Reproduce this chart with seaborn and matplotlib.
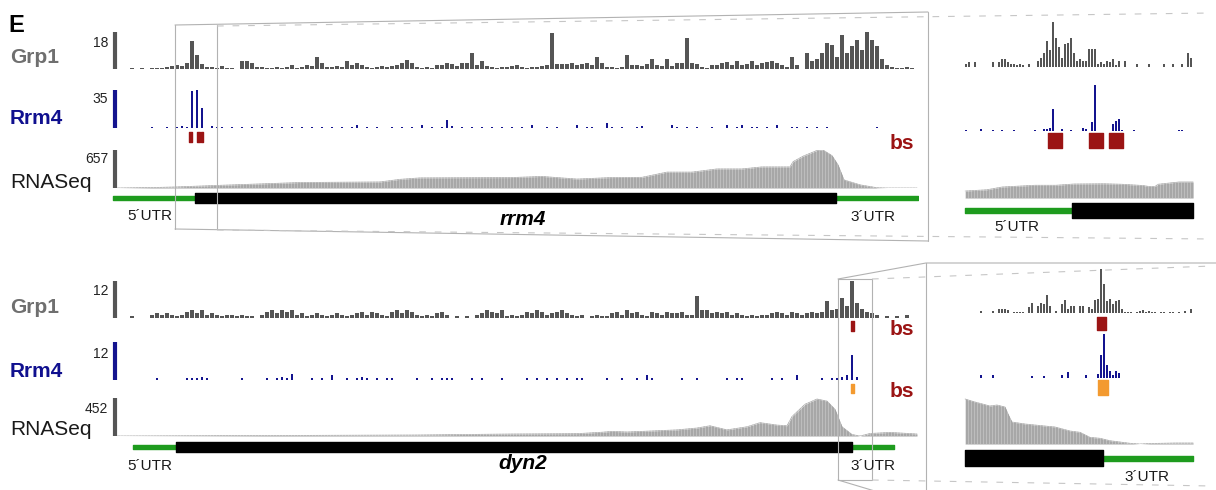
import numpy as np
import seaborn as sns
import matplotlib
matplotlib.use("Agg")
import matplotlib.pyplot as plt

sns.set_theme(style="white")
plt.rcParams['font.family'] = ['Liberation Sans', 'DejaVu Sans']

# ---------------- data ----------------
# main tracks: 161 bins along the locus, insets: 78 bins
# top locus (rrm4)
top_grp1 = [
    0, 0, 0, 0.5, 0, 0.5, 0, 0.5, 0.5, 0.5,
    1, 1.5, 2, 1.5, 3, 13.5, 7, 2.5, 1, 1,
    0.5, 1.5, 0.5, 0.5, 0, 4, 4, 3, 1, 1,
    0.5, 0.5, 1, 0.5, 1, 2, 0.5, 1, 2, 1.5,
    6, 3, 1, 1, 1.5, 1, 4, 2, 3, 2,
    1, 0.5, 1, 1.5, 1, 1.5, 2, 3, 4.5, 3,
    1, 0.5, 1, 0.5, 2, 2, 3, 2.5, 1.5, 3,
    3, 8, 2, 4, 1.5, 1, 0.5, 1, 1, 1.5,
    2, 1, 0.5, 1, 1, 1.5, 2, 17.5, 2.5, 2.5,
    2.5, 3, 2, 2.5, 3, 2, 6, 3, 1, 1,
    0.5, 1, 7, 2, 2, 1.5, 2.5, 5, 2, 1.5,
    5, 1.5, 3, 3, 15, 3, 2.5, 1, 0.5, 2,
    2, 3, 3.5, 2, 4, 2, 2.5, 4, 2, 3,
    3.5, 4, 3, 2, 1, 6, 2, 0, 8, 4,
    5, 8, 12.5, 11.5, 6, 16.5, 8, 11, 14, 9,
    18, 14, 11, 5, 2, 1, 0.5, 0.5, 1, 0.5,
    0,
]
top_rrm4 = [
    (7, 0.5), (10, 1), (12, 1), (13, 1.5), (14, 1), (15, 34), (16, 35), (17, 18),
    (19, 1.5), (20, 0.5), (21, 1), (23, 1), (25, 1), (27, 1), (29, 1), (31, 1),
    (33, 1), (35, 1), (37, 1), (39, 1), (41, 1), (43, 1), (45, 1), (47, 1),
    (48, 3), (50, 1), (52, 1), (55, 1), (57, 1), (59, 1), (61, 3), (63, 1),
    (65, 1), (66, 7), (67, 2), (69, 1), (71, 1), (73, 1), (75, 1), (77, 1),
    (79, 1), (81, 1), (83, 3), (86, 1), (88, 1), (92, 3), (94, 1), (95, 1),
    (98, 5), (99, 1), (101, 1), (104, 1), (105, 2), (111, 3), (112, 1), (114, 1),
    (116, 1), (119, 1), (122, 3), (124, 1), (125, 3), (127, 1), (128, 1), (130, 1),
    (132, 3), (135, 1), (136, 1), (138, 1), (140, 1), (142, 1), (152, 1),
]
top_rna = [
    (0, 0), (8, 10), (11.6, 18), (20, 45), (36.6, 95), (52.6, 105), (56.6, 150),
    (60.6, 175), (70.6, 178), (78.6, 180), (85, 200), (92, 155), (98.6, 180),
    (105, 185), (110, 275), (115, 275), (120, 330), (125, 330), (129, 365),
    (134.6, 365), (135.2, 455), (137.2, 550), (140, 650), (141.2, 657), (143, 560),
    (144.2, 400), (145.4, 140), (148.6, 55), (152, 5), (154, 0), (160, 0),
]
top_bs = [(14.4, 15.0), (16.0, 16.5), (16.7, 17.2)]
top_utr5, top_cds, top_utr3 = (-0.8, 15.6), (15.6, 143.8), (143.8, 160.2)
top_zoom = (11.6, 20.0)
top_scale = {'Grp1': 18, 'Rrm4': 35, 'RNASeq': 657}

top_in_grp1 = [
    0, 1, 1.5, 0, 1.5, 0, 0, 0, 0, 0,
    1.5, 0, 1.5, 2.5, 2.5, 1.5, 1, 1, 0.7, 1,
    0.7, 0, 1, 0, 0, 2, 3, 4.5, 8.5, 5.5,
    15, 9.5, 6.5, 3, 7.5, 8, 9.5, 4.5, 2, 2.5,
    2, 2, 6, 6, 6, 1, 1.5, 1, 2, 1.5,
    2.5, 0.5, 2, 0, 2, 0, 0, 0, 1, 0,
    0, 0, 1, 0, 0, 0, 0, 1, 0, 0,
    1, 0, 0, 1, 0, 4.5, 3, 0,
]
top_in_rrm4 = [
    (1, 1), (6, 2), (10, 1), (13, 1), (17, 1), (24, 1), (27, 2), (28, 2), (29, 3),
    (30, 22), (33, 1.5), (36, 1), (40, 3), (41, 2), (43, 9), (44, 46), (50, 7),
    (51, 10), (52, 12), (53, 1), (57, 1), (72, 1), (73, 1),
]
top_in_rna = [
    (0.7, 28), (8, 33), (13, 44), (24, 51), (31, 51), (37, 56), (47, 57), (53, 55),
    (60, 50), (62, 46), (64, 46), (65, 55), (72, 64), (76.7, 64),
]
top_in_bs = [(28.3, 33.0), (42.0, 46.7), (48.7, 53.3)]
top_in_utr5, top_in_cds = (0.7, 36.3), (36.3, 76.7)

# bottom locus (dyn2)
bot_grp1 = [
    0, 0, 0, 0.7, 0, 0, 0, 1, 1.5, 1,
    1.5, 1, 0.5, 1, 2, 2.5, 1.5, 2.5, 1, 1.5,
    1, 0.5, 1, 1, 0.5, 1, 0.5, 0.5, 0, 1,
    2, 2.5, 1.5, 2.5, 2, 2.5, 1, 1.5, 0.5, 1,
    1.5, 1, 0.5, 1, 1.5, 1, 0.5, 1, 1.5, 2,
    1, 2, 1.5, 1, 0.5, 2, 2.5, 1.5, 2.5, 2,
    1, 0.5, 1, 0.5, 1.5, 2, 1, 0, 0.5, 0,
    0.5, 0, 1, 1.5, 2.5, 2, 1.5, 2.5, 0.5, 1,
    0.5, 1, 2, 1.5, 2.5, 2, 1, 1.5, 2, 2.5,
    1.5, 1, 0.5, 1, 0, 0.5, 1, 0.5, 0.5, 1.5,
    2, 1, 2.5, 1.5, 2, 1, 0.5, 2, 1.5, 1,
    2, 1.5, 1.5, 2, 1, 1, 7, 2.5, 2.5, 1.5,
    2, 1.5, 2, 1, 1.5, 1, 0.5, 1, 0.5, 1,
    1, 1.5, 2, 1.5, 1, 2, 1.5, 1, 1.5, 2,
    1.5, 2, 5.5, 2.5, 3, 6.5, 4, 12, 5, 3,
    2, 1.5, 1, 0, 0.5, 0, 0.5, 0, 1, 0,
    0,
]
bot_rrm4 = [
    (8, 0.7), (14, 0.7), (15, 0.7), (16, 0.7), (17, 1), (18, 0.7), (25, 0.7),
    (30, 0.7), (32, 0.7), (33, 1), (34, 0.7), (35, 1.8), (39, 0.7), (41, 0.7),
    (43, 1.5), (46, 0.7), (48, 0.7), (49, 1), (50, 0.7), (52, 0.7), (54, 0.7),
    (55, 0.7), (60, 0.7), (63, 0.7), (65, 0.7), (66, 0.7), (67, 0.7), (71, 0.7),
    (73, 0.7), (77, 0.7), (82, 0.7), (84, 0.7), (86, 0.7), (88, 0.7), (90, 0.7),
    (92, 0.7), (93, 0.7), (98, 0.7), (101, 0.7), (104, 0.7), (106, 1.5), (107, 0.7),
    (113, 0.7), (116, 0.7), (122, 0.7), (124, 0.7), (125, 0.7), (131, 0.7),
    (133, 0.7), (136, 1.5), (141, 0.7), (143, 0.7), (144, 0.7), (145, 1),
    (146, 1.5), (147, 8), (148, 1),
]
bot_rna = [
    (0, 0), (20, 4), (40, 8), (60, 12), (79, 24), (92, 28), (97, 45), (99, 55),
    (102, 48), (105, 55), (112, 73), (116, 95), (118.6, 122), (122, 73), (126, 110),
    (128.6, 159), (132, 130), (134, 122), (135, 232), (137.6, 378), (140, 440),
    (142, 415), (143.6, 317), (145, 110), (147, 18), (148.6, 0), (150.6, 30),
    (154.6, 43), (160, 24),
]
bot_bs_grp1 = [(146.8, 147.4)]
bot_bs_rrm4 = [(146.8, 147.4)]
bot_utr5, bot_cds, bot_utr3 = (3.2, 11.8), (11.8, 147.0), (147.0, 155.4)
bot_zoom = (144.2, 151.0)
bot_scale = {'Grp1': 12, 'Rrm4': 12, 'RNASeq': 452}

bot_in_grp1 = [
    0, 0, 0, 0, 0, 0, 0.7, 0, 0, 0,
    0.7, 0, 1.3, 1.5, 1.3, 1, 0, 0.5, 0.5, 0.5,
    0.5, 0, 2, 3.5, 0, 2.5, 3.3, 3, 6, 2.5,
    0, 0.7, 0, 3, 4.3, 1.5, 2.3, 2.3, 0, 2.5,
    2.5, 0, 2, 1.5, 4.3, 4.7, 15, 10, 4, 4.7,
    3, 4, 4.3, 1.5, 0.5, 0.3, 0.5, 0, 0.5, 0.7,
    1, 0.5, 0.7, 0.3, 0.5, 0, 0.5, 0.5, 0, 0.5,
    0.3, 0, 0.5, 0, 0.7, 0, 1.2, 0,
]
bot_in_rrm4 = [
    (6, 3), (10, 3), (23, 2.5), (27, 2.5), (33, 3), (35, 6), (41, 3), (45, 4),
    (46, 23), (47, 44), (48, 13), (49, 7), (50, 3), (51, 7), (52, 5),
]
bot_in_rna = [
    (0.7, 450), (4, 420), (9, 380), (11.3, 390), (14, 370), (15, 300), (16.3, 220),
    (20.7, 200), (27.3, 180), (30.7, 170), (35.7, 130), (39, 117), (42.3, 67),
    (45.7, 57), (49, 33), (55.7, 7), (59, 0), (62.3, 5), (70.7, 10), (76.7, 10),
]
bot_in_bs_grp1 = [(44.7, 47.7)]
bot_in_bs_rrm4 = [(45.0, 48.3)]
bot_in_cds, bot_in_utr3 = (0.7, 46.7), (46.7, 76.7)

# ---------------- style ----------------
GREY = '#555555'
NAVY = '#14148f'
RNA_C = '#a7a7a7'
GREEN = '#1e9b1e'
BS_RED = '#9b1414'
BS_ORANGE = '#f39a30'
FRAME = '#b2b2b2'

W, H = 1216, 490
fig = plt.figure(figsize=(W / 100, H / 100), dpi=100)

MAIN_X = (110, 918, (-1.4, 160.2))
INSET_X = (960, 1197, (-1, 78))


def track_axes(xspec, y0, y1, ymax):
    x0, x1, xlim = xspec
    ax = fig.add_axes([x0 / W, 1 - y1 / H, (x1 - x0) / W, (y1 - y0) / H])
    ax.set_axis_off()
    ax.set_xlim(*xlim)
    ax.set_ylim(0, ymax)
    return ax


def strip_axes(xspec, y0, y1):
    # y in pixel rows, used for gene models and binding sites
    x0, x1, xlim = xspec
    ax = fig.add_axes([x0 / W, 1 - y1 / H, (x1 - x0) / W, (y1 - y0) / H])
    ax.set_axis_off()
    ax.set_xlim(*xlim)
    ax.set_ylim(y1, y0)
    return ax


def bars(ax, values, color, width, span):
    x = np.arange(len(values))
    ax.bar(x, values, width=width, color=color, linewidth=0)
    ax.hlines(0, 0, span, color='#cccccc', lw=0.7, zorder=0)


def peaks(ax, pairs, color, width, span):
    x, h = zip(*pairs)
    ax.bar(x, h, width=width, color=color, linewidth=0)
    ax.hlines(0, 0, span, color='#cfcfdf', lw=0.7, zorder=0)


def coverage(ax, pairs, span, step):
    x, y = map(np.array, zip(*pairs))
    ax.fill_between(x, y, color=RNA_C, linewidth=0)
    sns.lineplot(x=x, y=y, ax=ax, color='#a0a0a0', lw=0.5, sort=False)
    ax.vlines(np.arange(x.min(), x.max(), step), 0, y.max(), color='white',
              lw=0.45, alpha=0.4)
    ax.hlines(0, 0, span, color='#cccccc', lw=0.7, zorder=0)
    ax.set_xlabel('')
    ax.set_ylabel('')


def gene(ax, utrs, cds, yc, thick=10, thin=4):
    for s, e in utrs:
        ax.broken_barh([(s, e - s)], (yc - thin / 2, thin), color=GREEN)
    ax.broken_barh([(cds[0], cds[1] - cds[0])], (yc - thick / 2, thick), color='black')


def sites(ax, ranges, y0, y1, color):
    ax.broken_barh([(s, e - s) for s, e in ranges], (y0, y1 - y0), color=color)


def scale_bar(ax, ymax, color):
    ax.vlines(-0.5, 0, ymax, color=color, lw=3)


# ---------------- top panel ----------------
a = track_axes(MAIN_X, 32, 69, top_scale['Grp1'])
bars(a, top_grp1, GREY, 0.62, 160)
scale_bar(a, top_scale['Grp1'], GREY)
ax_ref_top = a
a = track_axes(MAIN_X, 90, 128, top_scale['Rrm4'])
peaks(a, top_rrm4, NAVY, 0.5, 160)
scale_bar(a, top_scale['Rrm4'], NAVY)
a = track_axes(MAIN_X, 150, 188, top_scale['RNASeq'])
coverage(a, top_rna, 160, 0.6)
scale_bar(a, top_scale['RNASeq'], GREY)
s = strip_axes(MAIN_X, 128, 206)
sites(s, top_bs, 132, 142, BS_RED)
gene(s, [top_utr5, top_utr3], top_cds, 198)

a = track_axes(INSET_X, 21, 67, 15.3)
bars(a, top_in_grp1, GREY, 0.8, 77)
a = track_axes(INSET_X, 85, 131, 46)
peaks(a, top_in_rrm4, NAVY, 0.8, 77)
a = track_axes(INSET_X, 150, 198, 192)
coverage(a, top_in_rna, 77, 1)
s = strip_axes(INSET_X, 131, 220)
sites(s, top_in_bs, 133, 148, BS_RED)
gene(s, [top_in_utr5], top_in_cds, 210, thick=15, thin=5)

# ---------------- bottom panel ----------------
a = track_axes(MAIN_X, 281, 318, bot_scale['Grp1'])
bars(a, bot_grp1, GREY, 0.62, 160)
scale_bar(a, bot_scale['Grp1'], GREY)
ax_ref_bot = a
a = track_axes(MAIN_X, 342, 380, bot_scale['Rrm4'])
peaks(a, bot_rrm4, NAVY, 0.5, 160)
scale_bar(a, bot_scale['Rrm4'], NAVY)
a = track_axes(MAIN_X, 398, 436, bot_scale['RNASeq'])
coverage(a, bot_rna, 160, 0.6)
scale_bar(a, bot_scale['RNASeq'], GREY)
s = strip_axes(MAIN_X, 318, 456)
sites(s, bot_bs_grp1, 321, 331, BS_RED)
sites(s, bot_bs_rrm4, 384, 393, BS_ORANGE)
gene(s, [bot_utr5, bot_utr3], bot_cds, 447)

a = track_axes(INSET_X, 268, 313, 15.3)
bars(a, bot_in_grp1, GREY, 0.8, 77)
a = track_axes(INSET_X, 334, 378, 44)
peaks(a, bot_in_rrm4, NAVY, 0.8, 77)
a = track_axes(INSET_X, 398, 444, 460)
coverage(a, bot_in_rna, 77, 1)
s = strip_axes(INSET_X, 313, 470)
sites(s, bot_in_bs_grp1, 317, 330, BS_RED)
sites(s, bot_in_bs_rrm4, 380, 395, BS_ORANGE)
gene(s, [bot_in_utr3], bot_in_cds, 458, thick=16, thin=5)

# ---------------- overlay: labels and zoom frames ----------------
ov = fig.add_axes([0, 0, 1, 1])
ov.set_axis_off()
ov.set_xlim(0, W)
ov.set_ylim(H, 0)


def to_px(ax, b):
    return ax.transData.transform((b, 0))[0]


solid = dict(color=FRAME, lw=0.8)
dashed = dict(color='#c6c6c6', lw=0.8, dashes=(6, 8))

zx0, zx1 = [to_px(ax_ref_top, b) for b in top_zoom]
ov.plot([zx0, zx0], [25, 229], **solid)
ov.plot([zx1, zx1], [25, 229], **solid)
ov.plot([zx0, 928], [25, 12], **solid)
ov.plot([zx0, 928], [229, 241], **solid)
ov.plot([928, 928], [12, 241], **solid)
ov.plot([zx1, 1212], [26, 13], **dashed)
ov.plot([zx1, 1212], [230, 239], **dashed)

bx0, bx1 = [to_px(ax_ref_bot, b) for b in bot_zoom]
ov.plot([bx0, bx0], [279, 480], **solid)
ov.plot([bx1, bx1], [279, 480], **solid)
ov.plot([bx0, bx1], [279, 279], **solid)
ov.plot([bx0, bx1], [480, 480], **solid)
ov.plot([bx0, 926, 1216], [279, 263, 263], **solid)
ov.plot([bx0, 878], [480, 492], **solid)
ov.plot([926, 926], [263, 492], **solid)
ov.plot([bx1, 1212], [279, 266], **dashed)
ov.plot([bx1, 1212], [480, 486], **dashed)

ov.text(8, 32, 'E', fontsize=17, fontweight='bold', color='black')

LBL = 15
for (yb_lab, yb_num), name, scale in [
        ((63, 47), 'Grp1', top_scale), ((124, 103), 'Rrm4', top_scale),
        ((188, 163), 'RNASeq', top_scale),
        ((313, 295), 'Grp1', bot_scale), ((377, 358), 'Rrm4', bot_scale),
        ((435, 413), 'RNASeq', bot_scale)]:
    if name == 'Grp1':
        kw = dict(color='#6f6f6f', fontweight='bold')
    elif name == 'Rrm4':
        kw = dict(color='#10108f', fontweight='bold')
    else:
        kw = dict(color='#1a1a1a')
    ov.text(10, yb_lab, name, fontsize=LBL, va='baseline', **kw)
    ov.text(108, yb_num, str(scale[name]), fontsize=10, va='baseline', ha='right',
            color='#222222')

bs_kw = dict(fontsize=15, fontweight='bold', color=BS_RED, va='baseline')
ov.text(890, 149, 'bs', **bs_kw)
ov.text(890, 335, 'bs', **bs_kw)
ov.text(890, 397, 'bs', **bs_kw)

utr_kw = dict(fontsize=11, ha='center', va='baseline', color='#1a1a1a')
ov.text(150, 220, '5´UTR', **utr_kw)
ov.text(873, 221, '3´UTR', **utr_kw)
ov.text(1017, 231, '5´UTR', **utr_kw)
ov.text(150, 470, '5´UTR', **utr_kw)
ov.text(873, 470, '3´UTR', **utr_kw)
ov.text(1147, 481, '3´UTR', **utr_kw)

gene_kw = dict(fontsize=15, fontweight='bold', fontstyle='italic', ha='center',
               va='baseline', color='black')
ov.text(523, 225, 'rrm4', **gene_kw)
ov.text(523, 469, 'dyn2', **gene_kw)

fig.savefig('out.png', dpi=100)
